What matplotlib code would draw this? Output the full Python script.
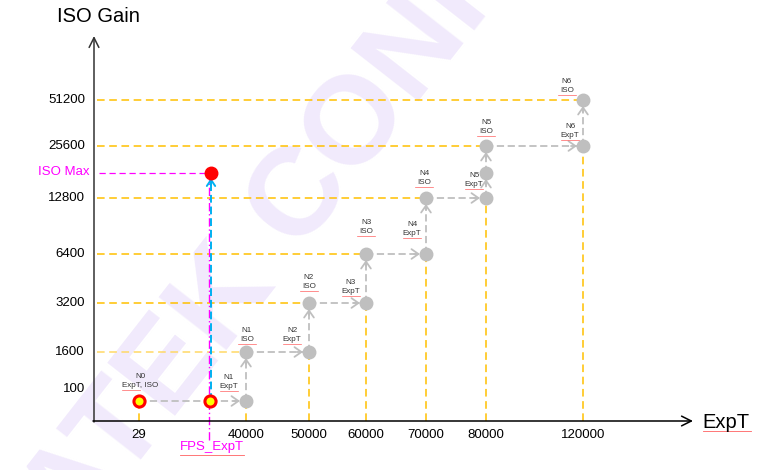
import matplotlib.pyplot as plt

plt.rcParams['font.family'] = ['Liberation Sans', 'DejaVu Sans']

# ---- data ----
expt_ticks = ["29", "40000", "50000", "60000", "70000", "80000", "120000"]
iso_ticks = ["100", "1600", "3200", "6400", "12800", "25600", "51200"]
fps_name = "FPS_ExpT"
iso_max_name = "ISO Max"

# AE table path: label, ExpT column, ISO row
node_names = ["N0\nExpT, ISO", "", "N1\nExpT", "N1\nISO", "N2\nExpT", "N2\nISO",
              "N3\nExpT", "N3\nISO", "N4\nExpT", "N4\nISO", "N5\nExpT", "",
              "N5\nISO", "N6\nExpT", "N6\nISO"]
node_expt = ["29", fps_name, "40000", "40000", "50000", "50000", "60000", "60000",
             "70000", "70000", "80000", "80000", "80000", "120000", "120000"]
node_iso = ["100", "100", "100", "1600", "1600", "3200", "3200", "6400",
            "6400", "12800", "12800", iso_max_name, "25600", "25600", "51200"]

# ---- layout (schematic, non-linear axes in pixel units) ----
W, H = 771, 470
col_x = dict(zip(expt_ticks, [139, 246, 309, 366, 426, 486, 583]))
col_x[fps_name] = 210
row_y = dict(zip(iso_ticks, [401, 352, 303, 254, 198, 146, 100]))
row_y[iso_max_name] = 173
label_off = [(1, -20), None, (-17, -19), (1, -17), (-17, -17), (0, -21),
             (-15, -16), (0, -27), (-14, -25), (-2, -20), (-12, -18), None,
             (0, -19), (-13, -15), (-16, -14)]
x0, y0 = 94, 421          # origin of the axes arrows

ORANGE = "#FFC000"
GRAY = "#BFBFBF"
MAGENTA = "#FF00FF"
BLUE = "#00B0F0"
WAVY = "#FF6060"

fig = plt.figure(figsize=(W / 100, H / 100), dpi=100)
ax = fig.add_axes([0, 0, 1, 1])
ax.set_xlim(0, W)
ax.set_ylim(H, 0)
ax.axis('off')

# watermark
wm = dict(fontsize=90, fontweight='bold', color='#F1EAFC', rotation=52,
          rotation_mode='anchor', va='baseline', zorder=0)
ax.text(297, 250, "CONFIDENTIAL", ha='left', **wm)
ax.text(275, 278, "MEDIATEK", ha='right', **wm)

xs = [col_x[e] for e in node_expt]
ys = [row_y[i] for i in node_iso]

# orange guides: horizontal from y axis, vertical from x axis
dash_o = dict(lw=1.1, ls=(0, (5, 3)), zorder=1)
for t in iso_ticks[1:]:
    xr = min(x for x, i in zip(xs, node_iso) if i == t)
    c = "#FFD966" if t == "1600" else ORANGE
    ax.plot([97, xr], [row_y[t], row_y[t]], color=c, **dash_o)
for t in expt_ticks:
    yb = max(y for y, e in zip(ys, node_expt) if e == t)
    ax.plot([col_x[t], col_x[t]], [y0, yb], color=ORANGE, **dash_o)

# axes arrows
ax.annotate("", xy=(x0, 36), xytext=(x0, y0 + 1),
            arrowprops=dict(arrowstyle="->,head_length=0.7,head_width=0.35",
                            color="#333333", lw=1.1, shrinkA=0, shrinkB=0), zorder=3)
ax.annotate("", xy=(693, y0), xytext=(x0 - 1, y0),
            arrowprops=dict(arrowstyle="->,head_length=0.7,head_width=0.35",
                            color="black", lw=1.1, shrinkA=0, shrinkB=0), zorder=3)
ax.text(98, 17, "ISO Gain", fontsize=14.5, ha='center', va='center')
ax.text(726, 422, "ExpT", fontsize=14.5, ha='center', va='center')
ax.plot([703, 751], [431, 431], color=WAVY, lw=0.6)

# tick labels
for t in iso_ticks:
    yl = 389 if t == "100" else row_y[t]
    ax.text(85, yl, t, fontsize=9.5, ha='right', va='center')
for t in expt_ticks:
    ax.text(col_x[t], 435, t, fontsize=9.5, ha='center', va='center')

# FPS / ISO Max
fx, my = col_x[fps_name], row_y[iso_max_name]
ax.text(90, my - 1, iso_max_name, fontsize=9.5, color=MAGENTA, ha='right', va='center')
ax.plot([99, fx], [my, my], color=MAGENTA, lw=0.9, ls=(0, (5, 3)), zorder=2)
ax.plot([fx - 1, fx - 1], [440, my + 4], color=MAGENTA, lw=1.0,
        ls=(0, (6, 2, 1, 2)), zorder=2)
ax.plot([fx + 1, fx + 1], [row_y["100"], my + 8], color=BLUE, lw=1.4,
        ls=(0, (4, 2)), zorder=2)
ax.annotate("", xy=(fx + 1, my + 5), xytext=(fx + 1, my + 12),
            arrowprops=dict(arrowstyle="->,head_length=0.45,head_width=0.3",
                            color=BLUE, lw=1.4, shrinkA=0, shrinkB=0), zorder=3)
ax.plot([fx + 1], [my], 'o', ms=9, color='red', mec='red', zorder=5)
ax.text(212, 447, fps_name, fontsize=9.5, color=MAGENTA, ha='center', va='center')
ax.plot([180, 244], [455, 455], color=WAVY, lw=0.6)

# gray dashed path with open arrow heads
for k in range(len(xs) - 1):
    xa, ya, xb, yb = xs[k], ys[k], xs[k + 1], ys[k + 1]
    dist = ((xb - xa) ** 2 + (yb - ya) ** 2) ** 0.5
    ux, uy = (xb - xa) / dist, (yb - ya) / dist
    ax.plot([xa, xb - 6 * ux], [ya, yb - 6 * uy], color=GRAY, lw=1.3,
            ls=(0, (4, 2)), zorder=3)
    if k > 0:
        ax.annotate("", xy=(xb - 6 * ux, yb - 6 * uy),
                    xytext=(xb - 12 * ux, yb - 12 * uy),
                    arrowprops=dict(arrowstyle="->,head_length=0.5,head_width=0.35",
                                    color=GRAY, lw=1.3, shrinkA=0, shrinkB=0), zorder=3)

# nodes and their labels
for k, (x, y) in enumerate(zip(xs, ys)):
    if k < 2:
        ax.plot([x], [y], 'o', ms=8, color='#FFFF00', mec='red', mew=2.2, zorder=5)
    else:
        ax.plot([x], [y], 'o', ms=9, color=GRAY, mec=GRAY, zorder=5)
    if label_off[k] is None:
        continue
    dx, dy = label_off[k]
    ax.text(x + dx, y + dy, node_names[k], fontsize=5.8, color='#333333',
            ha='center', va='center', linespacing=1.3, zorder=6)
    w = 18
    lx = x + dx - (w / 2 if k else 18)
    ax.plot([lx, lx + w], [y + dy + 9, y + dy + 9], color=WAVY, lw=0.5, zorder=6)

fig.savefig("out.png", dpi=100)
